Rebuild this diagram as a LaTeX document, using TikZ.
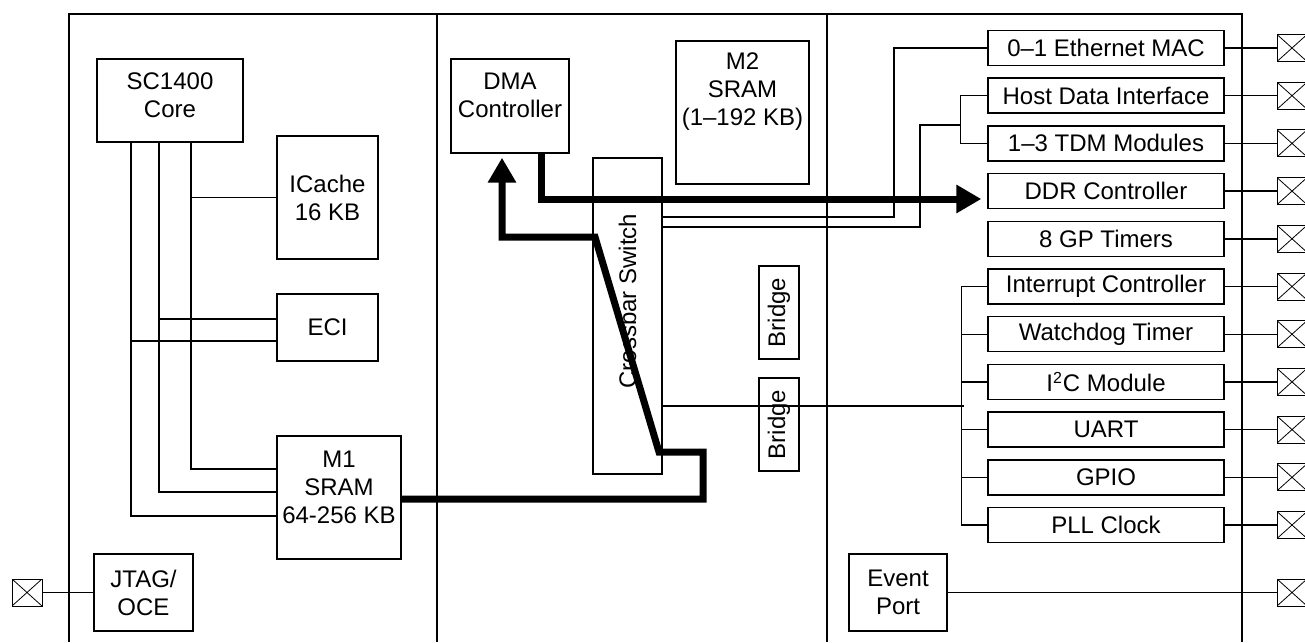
\documentclass[tikz,border=0pt]{standalone}
\usepackage{fontspec}
\setmainfont{Liberation Sans}
\usepackage{tikz}
\usetikzlibrary{arrows.meta, positioning, calc}

\begin{document}
\begin{tikzpicture}[x=0.5pt, y=-0.5pt, line width=0.7pt,
  box/.style={draw, inner sep=0pt, align=center, font=\fontsize{12}{14}\selectfont},
  txt/.style={inner sep=0pt, align=center, font=\fontsize{12}{14}\selectfont},
  unit/.style={box, minimum width=118pt, minimum height=17.5pt},
  port/.style={draw, line width=0.5pt, minimum width=15pt, minimum height=13.5pt, inner sep=0pt,
    path picture={\draw[line width=0.4pt] (path picture bounding box.north west) -- (path picture bounding box.south east)
      (path picture bounding box.south west) -- (path picture bounding box.north east);}},
  bus/.style={line width=3.5pt, -{Triangle[length=12.5pt, width=13.5pt]}}]
\useasboundingbox (0,0) rectangle (1305,642);

% chip outline and the three regions
\draw (69,642) |- (1242,14) -- (1242,642);
\draw (437,14) -- (437,642);
\draw (827,14) -- (827,642);

% core side
\node[box, minimum width=73pt, minimum height=41.5pt] (core) at (170,100.5) {};
\node[txt] (coretxt) at (170,95) {SC1400\\Core};
\node[box, minimum width=50.5pt, minimum height=61.5pt] (icache) at (327.5,197.5) {ICache\\16 KB};
\node[box, minimum width=50.5pt, minimum height=33.5pt] (eci) at (327.5,327.5) {ECI};
\node[box, minimum width=62pt, minimum height=61.5pt] (mone) at (339,497.5) {};
\node[txt] (monetxt) at (339,487) {M1\\SRAM\\64-256 KB};
\node[box, minimum width=49.5pt, minimum height=38.5pt] (jtag) at (143.5,592.5) {JTAG/\\OCE};
\node[port] (pjtag) at (27,592.5) {};

\draw (core.south -| 191,0) |- (mone.west |- 0,469);
\draw (core.south -| 159,0) |- (mone.west |- 0,492);
\draw (core.south -| 131,0) |- (mone.west |- 0,516);
\draw (icache.west) -- ++(-86,0);
\draw (eci.west |- 0,319) -- ++(-118,0);
\draw (eci.west |- 0,341) -- ++(-146,0);
\draw (pjtag) -- (jtag);

% middle
\node[box, minimum width=59pt, minimum height=47pt] (dma) at (510,106) {};
\node[txt] (dmatxt) at (510,95) {DMA\\Controller};
\node[box, minimum width=66.5pt, minimum height=71.5pt] (mtwo) at (742.5,112.5) {};
\node[txt] (mtwotxt) at (742.5,92) {M2\\SRAM\\(1--192 KB)};
\node[box, minimum width=34.5pt, minimum height=158pt] (xbar) at (627.5,316) {};
\node[txt, rotate=90] (xbartxt) at (627.5,301) {Crossbar Switch};
\node[box, rotate=90, minimum width=46.5pt, minimum height=20pt] (brA) at (779,312.5) {Bridge};
\node[box, rotate=90, minimum width=46.5pt, minimum height=20pt] (brB) at (779,424.5) {Bridge};
\node[box, minimum width=49pt, minimum height=38.5pt] (evport) at (898,592.5) {Event\\Port};

% peripherals
\node[unit] (eth) at (1106,48) {0--1 Ethernet MAC};
\node[unit] (hdi) at (1106,95.7) {Host Data Interface};
\node[unit] (tdm) at (1106,143.4) {1--3 TDM Modules};
\node[unit] (ddr) at (1106,191.1) {DDR Controller};
\node[unit] (gpt) at (1106,238.8) {8 GP Timers};
\node[unit] (intc) at (1106,286.5) {Interrupt Controller};
\node[unit] (wdt) at (1106,334.2) {Watchdog Timer};
\node[unit] (iic) at (1106,381.9) {I\textsuperscript{2}C Module};
\node[unit] (uart) at (1106,429.6) {UART};
\node[unit] (gpio) at (1106,477.3) {GPIO};
\node[unit] (pll) at (1106,525) {PLL Clock};

\foreach \n in {eth,hdi,tdm,ddr,gpt,intc,wdt,iic,uart,gpio,pll,evport} {
  \node[port] (p\n) at (\n.east -| 1292,0) {};
  \draw (\n) -- (p\n);
}

% switch to peripherals
\draw (xbar.east |- 0,217) -| (894,0 |- eth.west) -- (eth.west);
\draw (xbar.east |- 0,227) -| (920,125) -- (961,125);
\draw (hdi.west) -- ++(-27,0) |- (tdm.west);
\draw (xbar.east |- 0,406) -- (964,406);
\draw (intc.west) -- ++(-26,0) |- (pll.west);
\foreach \n in {wdt,iic,uart,gpio}
  \draw (\n.west) -- ++(-26,0);

% heavy data paths
\draw[bus, shorten >=2pt] (mone.east |- 0,499) -- (703,499) -- (703,452) -- (659,452)
  -- (595,237) -- (502,237) -- (dma.south -| 502,0);
\draw[bus, shorten >=3pt] (dma.south -| 541,0) |- (ddr.west |- 0,199);
\end{tikzpicture}
\end{document}
